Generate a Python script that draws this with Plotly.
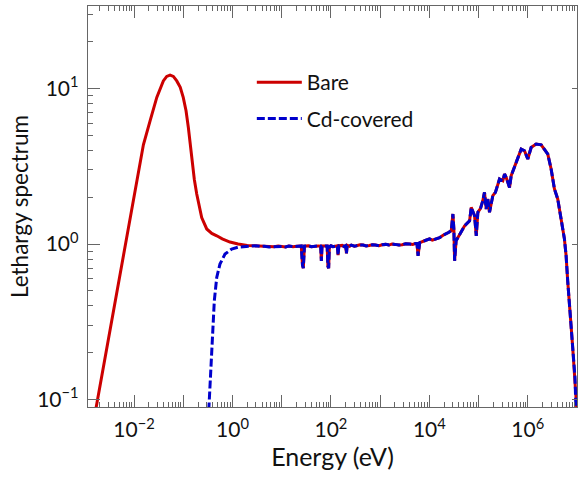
import plotly.graph_objects as go

# ---- thermal part of the bare-detector spectrum (energy in eV, lethargy flux) ----
thermal_E_bare = [1.70e-3, 3.0e-3, 5.47e-3, 6.59e-3, 9.7e-3, 1.30e-2, 1.55e-2, 2.12e-2,
                  2.90e-2, 3.94e-2, 4.62e-2, 5.40e-2, 6.30e-2, 7.38e-2, 0.087, 0.100,
                  0.114, 0.127, 0.149, 0.168, 0.188, 0.212, 0.237, 0.300, 0.38, 0.48,
                  0.62, 0.89, 1.3, 2.0]
thermal_y_bare = [0.089, 0.245, 0.71, 1.00, 2.0, 3.35, 4.35, 6.2,
                  8.77, 11.2, 11.97, 12.2, 11.97, 11.2, 10.2, 8.77,
                  7.2, 5.62, 3.44, 2.6, 2.10, 1.72, 1.48, 1.25, 1.17, 1.13,
                  1.08, 1.03, 1.0, 0.98]

# ---- cadmium cut-off edge of the Cd-covered spectrum ----
edge_E_cd = [0.330, 0.366, 0.396, 0.428, 0.479, 0.557, 0.705, 0.964, 1.31, 2.0]
edge_y_cd = [0.085, 0.161, 0.264, 0.432, 0.61, 0.743, 0.862, 0.929, 0.955, 0.968]

# ---- epithermal and fast region, common to both spectra ----
epi_E = [3, 3.8, 4.5, 5.5, 7, 8.5, 10, 12, 14, 17, 20, 25, 26.5, 27.5, 29, 35, 40, 45, 55,
         62, 64, 66, 75, 84, 87, 90, 93, 100, 110, 120, 135, 140, 145, 170, 185, 200, 207,
         214, 240, 260, 300, 330, 390, 450, 520, 600, 700, 800, 950, 1100, 1300, 1500,
         1750, 2000, 2400, 2800, 3300, 4000, 4600, 5300, 5600, 5900, 6200, 6360, 8000,
         1.01e4, 1.15e4, 1.3e4, 1.45e4, 1.62e4, 1.9e4, 2.21e4, 2.5e4, 2.79e4, 3.01e4,
         3.15e4, 3.26e4, 3.5e4, 4.12e4, 4.6e4, 5.2e4, 6.57e4, 7.1e4, 8.3e4, 8.98e4, 9.68e4,
         1.1e5, 1.22e5, 1.32e5, 1.43e5, 1.54e5, 1.67e5, 1.95e5, 2.2e5, 2.46e5, 2.67e5,
         3.11e5, 3.37e5, 3.65e5, 4.26e5, 4.6e5, 5.37e5, 6.27e5, 7.35e5, 8.57e5, 1.0e6,
         1.17e6, 1.48e6, 1.87e6, 2.18e6, 2.55e6, 2.98e6, 3.48e6, 4.06e6, 4.76e6, 5.55e6,
         6.01e6, 6.47e6, 8.18e6]
epi_y = [0.975, 0.965, 0.968, 0.958, 0.962, 0.97, 0.965, 0.958, 0.97, 0.962, 0.968, 0.972,
         0.73, 0.70, 0.97, 0.975, 0.962, 0.968, 0.972,
         0.97, 0.78, 0.97, 0.975, 0.97, 0.72, 0.70, 0.96, 0.975, 0.962, 0.97, 0.975, 0.85,
         0.975, 0.98, 0.965, 0.975, 0.87,
         0.98, 0.968, 0.985, 0.97, 0.975, 0.988, 0.985, 0.972, 0.98, 0.99, 0.985, 0.975,
         0.99, 0.995, 0.985,
         1.0, 0.995, 0.985, 0.99, 1.005, 1.0, 0.995, 1.01, 1.01, 0.84, 1.02, 1.02, 1.05,
         1.08, 1.06, 1.07, 1.09, 1.10, 1.14, 1.16, 1.19, 1.22, 1.56,
         1.25, 0.78, 1.05, 1.16, 1.22, 1.31, 1.41, 1.72, 1.52, 1.13, 1.60,
         1.70, 1.90, 2.15, 1.68, 1.95, 1.60, 2.05, 2.15, 2.37, 2.62,
         2.55, 2.82, 2.68, 2.31, 2.75, 3.11, 3.52, 4.08, 3.98, 3.52,
         4.18, 4.40, 4.35, 4.08, 3.79, 3.04, 2.26, 1.95, 1.45, 1.08,
         0.84, 0.58, 0.216]

# ---- high-energy tails ----
tail_E_bare = [9.9e6]
tail_y_bare = [0.087]
tail_E_cd = [9.1e6, 9.6e6]
tail_y_cd = [0.139, 0.08]

# axis ticks: labelled even decades, unlabelled odd decades, minor 2..9
x_label_decades = [-2, 0, 2, 4, 6]
x_plain_decades = [-1, 1, 3, 5, 7]
y_decades = [-1, 0, 1]


def power_label(p):
    s = str(p).replace("-", "\u2212")
    return f"10<sup>{s}</sup>"


x_tickvals = [10.0 ** p for p in x_label_decades]
x_ticktext = [power_label(p) for p in x_label_decades]
x_plainvals = [10.0 ** p for p in x_plain_decades]
x_minor = [m * 10.0 ** p for p in range(-3, 7) for m in range(2, 10)]
y_tickvals = [10.0 ** p for p in y_decades]
y_ticktext = [power_label(p) for p in y_decades]
y_minor = [m * 10.0 ** p for p in [-1, 0, 1] for m in range(2, 10)]

bare_E = thermal_E_bare + epi_E + tail_E_bare
bare_y = thermal_y_bare + epi_y + tail_y_bare
cd_E = edge_E_cd + epi_E + tail_E_cd
cd_y = edge_y_cd + epi_y + tail_y_cd

FONT = "Lato"
AX = "#666666"
X_RANGE = [-2.935, 7.0]
Y_RANGE = [-1.048, 1.531]

fig = go.Figure()
fig.add_trace(go.Scatter(x=bare_E, y=bare_y, mode="lines", name="Bare",
                         legendgroup="bare",
                         line=dict(color="#cc0000", width=3)))
fig.add_trace(go.Scatter(x=cd_E, y=cd_y, mode="lines", name="Cd-covered",
                         legendgroup="cd",
                         line=dict(color="#0000cc", width=3, dash="8px,3px")))
# empty traces that carry the extra tick axes
fig.add_trace(go.Scatter(x=[], y=[], yaxis="y2", showlegend=False, hoverinfo="skip"))
fig.add_trace(go.Scatter(x=[], y=[], xaxis="x2", showlegend=False, hoverinfo="skip"))

fig.update_layout(
    width=579, height=479,
    margin=dict(l=88, r=2, t=6, b=72),
    paper_bgcolor="white", plot_bgcolor="white",
    font=dict(family=FONT, color="#111111", size=21),
    showlegend=True,
    legend=dict(x=0.335, y=0.86, xanchor="left", yanchor="top",
                bgcolor="rgba(0,0,0,0)", font=dict(size=21, family=FONT),
                tracegroupgap=6, itemwidth=45),
    xaxis=dict(
        type="log", range=X_RANGE,
        tickmode="array", tickvals=x_tickvals, ticktext=x_ticktext,
        ticks="inside", ticklen=12, tickwidth=1.3, tickcolor=AX,
        showline=True, linecolor=AX, linewidth=1.4, mirror="ticks",
        showgrid=False, zeroline=False,
        tickfont=dict(size=21, family=FONT), ticklabelstandoff=4,
        minor=dict(tickmode="array", tickvals=x_minor, ticks="inside",
                   ticklen=5, tickwidth=1.1, tickcolor=AX, showgrid=False),
        title=dict(text="Energy (eV)", font=dict(size=25, family=FONT), standoff=6),
    ),
    xaxis2=dict(
        type="log", range=X_RANGE, overlaying="x", side="bottom", anchor="y",
        tickmode="array", tickvals=x_plainvals, showticklabels=False,
        ticks="inside", ticklen=12, tickwidth=1.3, tickcolor=AX,
        showline=False, mirror="ticks", showgrid=False, zeroline=False,
    ),
    yaxis=dict(
        type="log", range=Y_RANGE,
        tickmode="array", tickvals=y_tickvals, ticktext=y_ticktext,
        ticks="inside", ticklen=12, tickwidth=1.3, tickcolor=AX,
        showline=True, linecolor=AX, linewidth=1.4, mirror=True,
        showgrid=False, zeroline=False,
        tickfont=dict(size=21, family=FONT), ticklabelstandoff=4,
        minor=dict(tickmode="array", tickvals=y_minor, ticks="inside",
                   ticklen=5, tickwidth=1.1, tickcolor=AX, showgrid=False),
        title=dict(text="Lethargy spectrum", font=dict(size=22.5, family=FONT), standoff=2),
    ),
    yaxis2=dict(
        type="log", range=Y_RANGE, overlaying="y", side="right",
        tickmode="array", tickvals=y_tickvals, showticklabels=False,
        ticks="inside", ticklen=5, tickwidth=1.3, tickcolor=AX,
        showline=False, showgrid=False, zeroline=False,
    ),
)

fig.write_html("out.html")
